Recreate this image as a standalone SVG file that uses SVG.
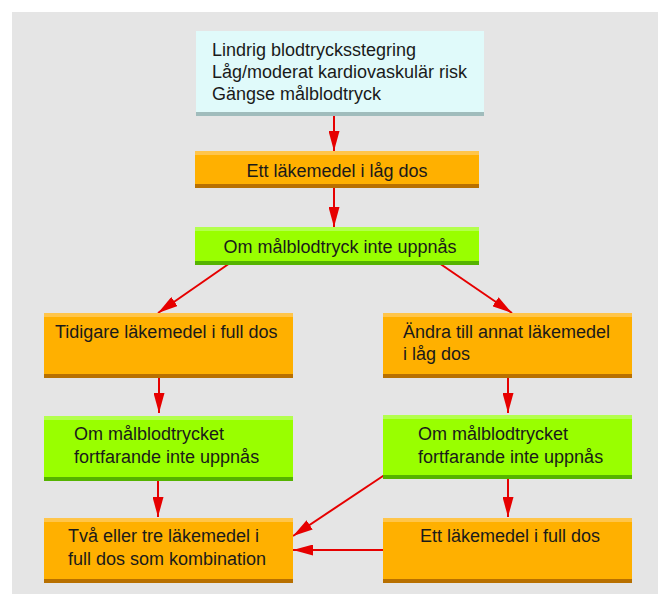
<svg xmlns="http://www.w3.org/2000/svg" width="658" height="594" viewBox="0 0 658 594">
<defs>
<style>
text{font-family:"Liberation Sans","Noto Sans",sans-serif;font-size:18px;fill:#1a1a1a}
.c{text-anchor:middle}
.cy{fill:#e0fafa}.cyb{fill:#a0bcbc}
.or{fill:#ffb000}.ort{fill:#ffc54a}.orb{fill:#b87000}
.gr{fill:#99ff00}.grt{fill:#b3ff4d}.grb{fill:#55b300}
.ar{stroke:#e60000;stroke-width:2;fill:none;marker-end:url(#ah2)}
</style>
<marker id="ah2" markerWidth="20" markerHeight="11" refX="20" refY="5.5" orient="auto" markerUnits="userSpaceOnUse" viewBox="0 0 20 11">
<path d="M0,0 L20,5.5 L0,11 z" fill="#e60000"/>
</marker>
</defs>
<rect x="12" y="12" width="646" height="582" fill="#e5e5e5"/>
<g id="connectors">
<path class="ar" d="M334,110 V151"/>
<path class="ar" d="M334,188 V227"/>
<path class="ar" d="M230,263 L158,313"/>
<path class="ar" d="M439,263 L512,313"/>
<path class="ar" d="M159,369 V413"/>
<path class="ar" d="M508,369 V413"/>
<path class="ar" d="M158,472 V517"/>
<path class="ar" d="M508,472 V517"/>
<path class="ar" d="M386,474 L293,536"/>
<path class="ar" d="M383,550 H293"/>
</g>
<g id="start">
<rect class="cy" x="196" y="31" width="288" height="85"/>
<rect class="cyb" x="196" y="112" width="288" height="4"/>
<text x="212" y="56">Lindrig blodtrycksstegring</text>
<text x="212" y="78">Låg/moderat kardiovaskulär risk</text>
<text x="212" y="100">Gängse målblodtryck</text>
</g>
<g id="low-dose">
<rect class="or" x="195" y="151" width="284" height="37"/>
<rect class="ort" x="195" y="151" width="284" height="4"/>
<rect class="orb" x="195" y="184" width="284" height="4"/>
<text class="c" x="337" y="177">Ett läkemedel i låg dos</text>
</g>
<g id="not-reached">
<rect class="gr" x="195" y="227" width="284" height="38"/>
<rect class="grt" x="195" y="227" width="284" height="4"/>
<rect class="grb" x="195" y="261" width="284" height="4"/>
<text class="c" x="340" y="253">Om målblodtryck inte uppnås</text>
</g>
<g id="full-dose-prev">
<rect class="or" x="44" y="313" width="249" height="65"/>
<rect class="ort" x="44" y="313" width="249" height="4"/>
<rect class="orb" x="44" y="374" width="249" height="4"/>
<text x="55" y="338">Tidigare läkemedel i full dos</text>
</g>
<g id="change-drug">
<rect class="or" x="383" y="313" width="249" height="65"/>
<rect class="ort" x="383" y="313" width="249" height="4"/>
<rect class="orb" x="383" y="374" width="249" height="4"/>
<text x="403" y="338">Ändra till annat läkemedel</text>
<text x="403" y="360">i låg dos</text>
</g>
<g id="still-not-left">
<rect class="gr" x="44" y="416" width="249" height="65"/>
<rect class="grt" x="44" y="416" width="249" height="4"/>
<rect class="grb" x="44" y="477" width="249" height="4"/>
<text x="74" y="440">Om målblodtrycket</text>
<text x="74" y="463">fortfarande inte uppnås</text>
</g>
<g id="still-not-right">
<rect class="gr" x="383" y="415" width="249" height="64"/>
<rect class="grt" x="383" y="415" width="249" height="4"/>
<rect class="grb" x="383" y="475" width="249" height="4"/>
<text x="418" y="440">Om målblodtrycket</text>
<text x="418" y="463">fortfarande inte uppnås</text>
</g>
<g id="combination">
<rect class="or" x="44" y="518" width="249" height="65"/>
<rect class="ort" x="44" y="518" width="249" height="4"/>
<rect class="orb" x="44" y="579" width="249" height="4"/>
<text x="68" y="542">Två eller tre läkemedel i</text>
<text x="68" y="565">full dos som kombination</text>
</g>
<g id="full-dose">
<rect class="or" x="383" y="518" width="249" height="65"/>
<rect class="ort" x="383" y="518" width="249" height="4"/>
<rect class="orb" x="383" y="579" width="249" height="4"/>
<text class="c" x="510" y="542">Ett läkemedel i full dos</text>
</g>
</svg>
